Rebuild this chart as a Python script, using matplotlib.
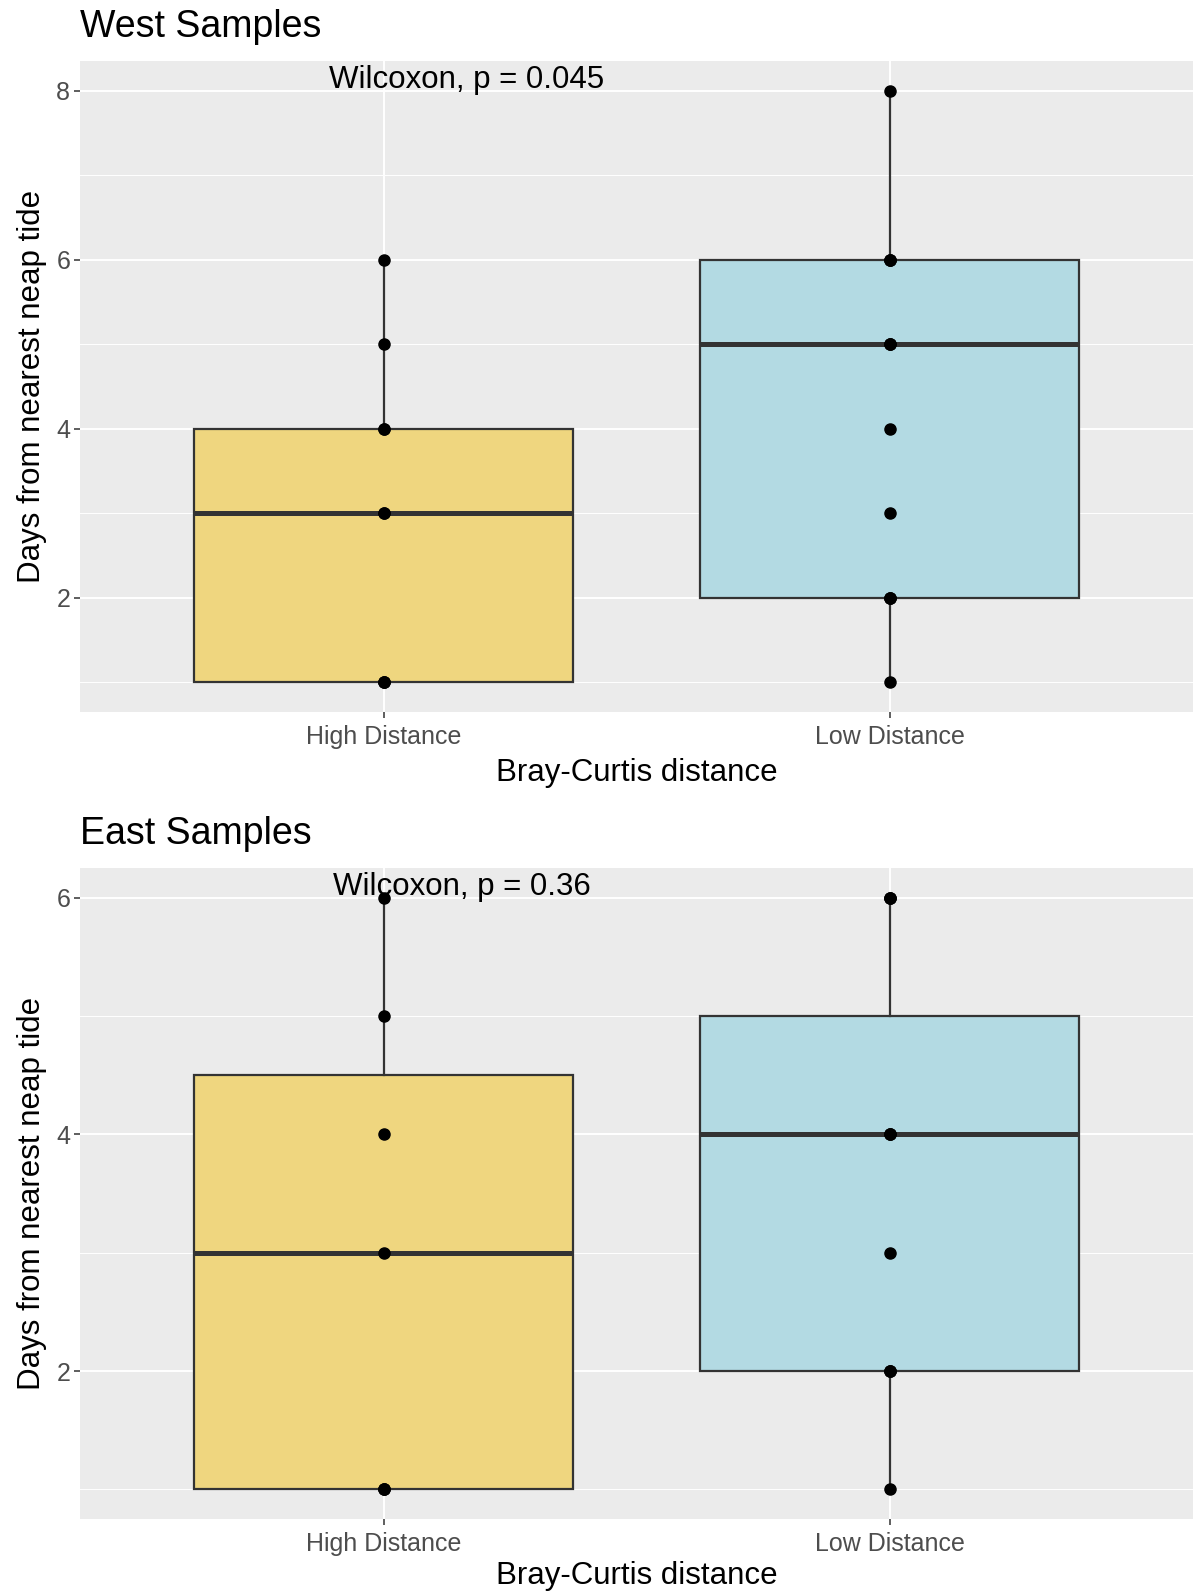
import matplotlib.pyplot as plt
import numpy as np

plt.rcParams['font.family'] = ['Liberation Sans', 'DejaVu Sans']

groups = ['High Distance', 'Low Distance']
fills = ['#EFD67F', '#B3DAE3']

# days from nearest neap tide per sample, by region and distance group
west_high = [1, 1, 1, 3, 3, 4, 4, 5, 6]
west_low = [1, 2, 2, 2, 3, 4, 5, 5, 5, 6, 6, 6, 8]
east_high = [1, 1, 1, 3, 4, 5, 6]
east_low = [1, 2, 2, 2, 3, 4, 4, 4, 6, 6, 6]

panels = [
    ('West Samples', [west_high, west_low], 'Wilcoxon, p = 0.045', 8.13, 0.892, 6),
    ('East Samples', [east_high, east_low], 'Wilcoxon, p = 0.36', 6.09, 0.90, 3.5),
]


def draw_panel(ax, title, data, label, label_y, label_x, xpad):
    ax.set_facecolor('#EBEBEB')
    lo = min(min(d) for d in data)
    hi = max(max(d) for d in data)
    pad = (hi - lo) * 0.05
    ax.set_ylim(lo - pad, hi + pad)
    ax.set_xlim(0.4, 2.6)

    # ggplot-style grid: major and minor lines in white
    ticks = np.arange(2, hi + 1, 2)
    minors = np.arange(1, hi + 1, 2)
    for y in minors:
        ax.axhline(y, color='white', lw=0.7, zorder=0)
    for y in ticks:
        ax.axhline(y, color='white', lw=1.4, zorder=0)
    for x in (1, 2):
        ax.axvline(x, color='white', lw=1.4, zorder=0)

    bp = ax.boxplot(data, positions=[1, 2], widths=0.75, patch_artist=True,
                    whis=1.5, showfliers=False, showcaps=False,
                    medianprops=dict(color='#333333', lw=3.6),
                    boxprops=dict(edgecolor='#333333', lw=1.6),
                    whiskerprops=dict(color='#333333', lw=1.6), zorder=2)
    for patch, c in zip(bp['boxes'], fills):
        patch.set_facecolor(c)

    for i, d in enumerate(data):
        ax.plot(np.full(len(d), i + 1), d, 'o', color='black', ms=8, zorder=3)

    ax.text(label_x, label_y, label, fontsize=22.5, ha='left', va='center',
            zorder=4)

    ax.set_xticks([1, 2])
    ax.set_xticklabels(groups)
    ax.set_yticks(ticks)
    ax.set_yticklabels([str(int(t)) for t in ticks])
    ax.tick_params(axis='both', colors='#333333', labelcolor='#4D4D4D',
                   labelsize=18, length=4, width=1.1, pad=3)
    ax.tick_params(axis='x', pad=5.5)
    for s in ax.spines.values():
        s.set_visible(False)
    ax.set_xlabel('Bray-Curtis distance', fontsize=22.5, labelpad=xpad)
    ax.set_ylabel('Days from nearest neap tide', fontsize=22.5, labelpad=7)
    ax.set_title(title, loc='left', fontsize=27, pad=17)


fig = plt.figure(figsize=(11.93, 15.91), dpi=100)
ax1 = fig.add_axes([0.0671, 0.5525, 0.933, 0.4092])
ax2 = fig.add_axes([0.0671, 0.0452, 0.933, 0.4092])
for ax, p in zip([ax1, ax2], panels):
    draw_panel(ax, *p)

fig.savefig('out.png', dpi=100)
